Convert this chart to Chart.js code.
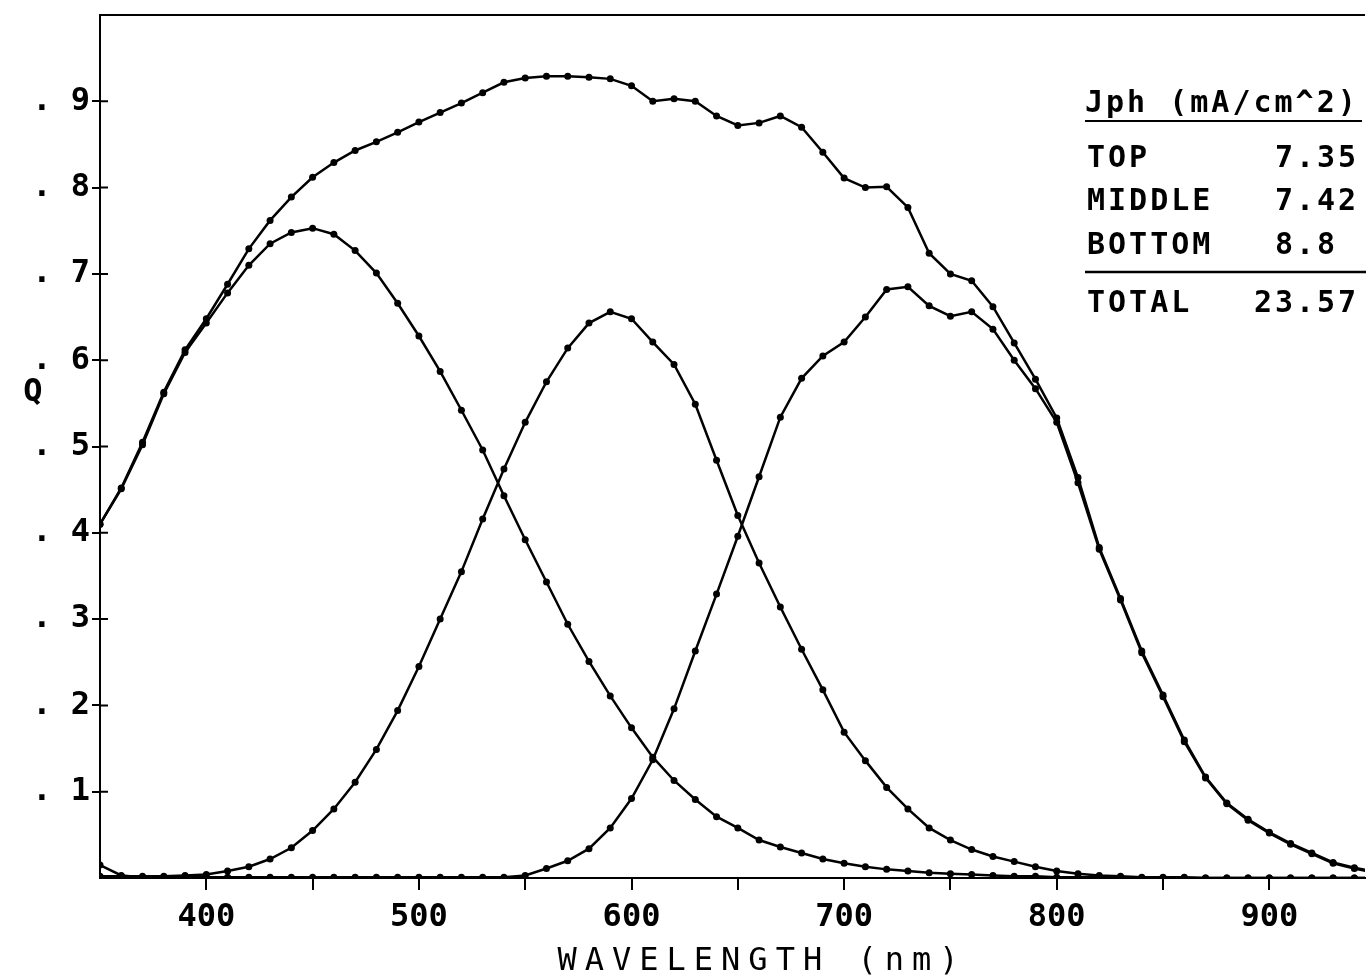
<!DOCTYPE html>
<html>
<head>
<meta charset="utf-8">
<title>Quantum efficiency</title>
<script src="https://cdn.jsdelivr.net/npm/chart.js@4.4.1/dist/chart.umd.min.js"></script>
<style>
  html, body { margin: 0; padding: 0; background: #fff; }
  #qeChart { display: block; }
</style>
</head>
<body>
<canvas id="qeChart" width="1369" height="977"></canvas>
<script>
// wavelength grid (nm), one point every 10 nm
const wavelength = [
  350, 360, 370, 380, 390, 400, 410, 420, 430, 440,
  450, 460, 470, 480, 490, 500, 510, 520, 530, 540,
  550, 560, 570, 580, 590, 600, 610, 620, 630, 640,
  650, 660, 670, 680, 690, 700, 710, 720, 730, 740,
  750, 760, 770, 780, 790, 800, 810, 820, 830, 840,
  850, 860, 870, 880, 890, 900, 910, 920, 930, 940, 950
];

// quantum efficiency of each cell
const qTop = [
  0.410, 0.451, 0.502, 0.561, 0.609, 0.643, 0.678, 0.710, 0.735, 0.748,
  0.753, 0.746, 0.727, 0.701, 0.666, 0.628, 0.587, 0.542, 0.496, 0.443,
  0.392, 0.343, 0.294, 0.251, 0.211, 0.174, 0.140, 0.113, 0.091, 0.071,
  0.058, 0.044, 0.036, 0.029, 0.022, 0.017, 0.013, 0.010, 0.008, 0.006,
  0.005, 0.004, 0.003, 0.002, 0.002, 0.001, 0.001, 0.001, 0.001, 0.000,
  0.000, 0.000, 0.000, 0.000, 0.000, 0.000, 0.000, 0.000, 0.000, 0.000, 0.000
];
const qMiddle = [
  0.002, 0.002, 0.002, 0.002, 0.003, 0.004, 0.008, 0.013, 0.022, 0.035,
  0.055, 0.080, 0.111, 0.149, 0.194, 0.245, 0.300, 0.355, 0.416, 0.474,
  0.528, 0.575, 0.614, 0.643, 0.656, 0.648, 0.621, 0.595, 0.549, 0.484,
  0.420, 0.365, 0.314, 0.265, 0.218, 0.169, 0.136, 0.105, 0.080, 0.058,
  0.044, 0.033, 0.025, 0.019, 0.013, 0.008, 0.005, 0.003, 0.002, 0.001,
  0.001, 0.001, 0.000, 0.000, 0.000, 0.000, 0.000, 0.000, 0.000, 0.000, 0.000
];
const qBottom = [
  0.015, 0.003, 0.001, 0.001, 0.001, 0.001, 0.001, 0.001, 0.001, 0.001,
  0.001, 0.001, 0.001, 0.001, 0.001, 0.001, 0.001, 0.001, 0.001, 0.001,
  0.003, 0.011, 0.020, 0.034, 0.058, 0.092, 0.137, 0.196, 0.263, 0.329,
  0.396, 0.465, 0.534, 0.579, 0.605, 0.621, 0.650, 0.682, 0.685, 0.663,
  0.651, 0.656, 0.636, 0.600, 0.567, 0.528, 0.458, 0.381, 0.322, 0.261,
  0.210, 0.158, 0.116, 0.086, 0.067, 0.052, 0.039, 0.028, 0.017, 0.011, 0.006
];
const qTotal = [
  0.410, 0.452, 0.505, 0.563, 0.612, 0.648, 0.688, 0.729, 0.762, 0.789,
  0.812, 0.829, 0.843, 0.853, 0.864, 0.876, 0.887, 0.898, 0.910, 0.922,
  0.927, 0.929, 0.929, 0.928, 0.926, 0.918, 0.900, 0.903, 0.900, 0.883,
  0.872, 0.875, 0.883, 0.870, 0.841, 0.811, 0.800, 0.801, 0.777, 0.724,
  0.700, 0.692, 0.662, 0.620, 0.578, 0.533, 0.464, 0.383, 0.324, 0.263,
  0.212, 0.160, 0.117, 0.087, 0.068, 0.053, 0.040, 0.029, 0.018, 0.012, 0.007
];

// photocurrent table
const cellNames = ['TOP', 'MIDDLE', 'BOTTOM'];
const jph = [7.35, 7.42, 8.8];
const jphTotal = 23.57;

const FONT = "'DejaVu Sans Mono', 'Liberation Mono', monospace";

function series(label, values) {
  return {
    label: label,
    data: wavelength.map((w, i) => ({ x: w, y: values[i] })),
    borderColor: '#000',
    borderWidth: 2.5,
    backgroundColor: '#000',
    pointRadius: 3.5,
    pointBorderWidth: 0,
    pointBackgroundColor: '#000',
    tension: 0,
    fill: false
  };
}

// frame, inner tick halves, axis titles and the Jph table
const plotterFrame = {
  id: 'plotterFrame',
  afterDraw(chart) {
    const ctx = chart.ctx;
    const a = chart.chartArea;
    const y = chart.scales.y;

    ctx.save();
    ctx.strokeStyle = '#000';
    ctx.fillStyle = '#000';
    ctx.lineWidth = 2;
    ctx.lineCap = 'butt';

    ctx.beginPath();
    ctx.moveTo(a.left - 1, a.top);
    ctx.lineTo(a.right, a.top);
    y.ticks.forEach(t => {
      const py = y.getPixelForValue(t.value);
      ctx.moveTo(a.left, py);
      ctx.lineTo(a.left + 8, py);
    });
    ctx.stroke();

    ctx.font = 'bold 32px ' + FONT;
    ctx.textAlign = 'center';
    ctx.textBaseline = 'middle';
    ctx.fillText('Q', 33, y.getPixelForValue(0.562));

    ctx.font = '32px ' + FONT;
    ctx.letterSpacing = '8px';
    ctx.textBaseline = 'alphabetic';
    ctx.fillText('WAVELENGTH (nm)', 762, 970);

    // table
    ctx.font = 'bold 30px ' + FONT;
    ctx.letterSpacing = '3px';
    ctx.textAlign = 'left';
    const x0 = 1087;
    const dotX = 1296;
    ctx.fillText('Jph (mA/cm^2)', x0 - 2, 112);
    ctx.beginPath();
    ctx.moveTo(x0 - 2, 121);
    ctx.lineTo(1362, 121);
    ctx.stroke();

    const rowY = [167, 210, 254];
    const drawValue = (v, py) => {
      const s = String(v);
      const intPart = s.split('.')[0];
      ctx.fillText(s, dotX - ctx.measureText(intPart).width, py);
    };
    cellNames.forEach((name, i) => {
      ctx.fillText(name, x0, rowY[i]);
      drawValue(jph[i], rowY[i]);
    });

    ctx.lineWidth = 2.5;
    ctx.beginPath();
    ctx.moveTo(x0 - 2, 272);
    ctx.lineTo(1366, 272);
    ctx.stroke();

    ctx.fillText('TOTAL', x0, 312);
    drawValue(jphTotal, 312);

    ctx.restore();
  }
};

new Chart(document.getElementById('qeChart'), {
  type: 'line',
  data: {
    datasets: [
      series('TOTAL', qTotal),
      series('TOP', qTop),
      series('MIDDLE', qMiddle),
      series('BOTTOM', qBottom)
    ]
  },
  options: {
    responsive: false,
    animation: false,
    layout: { padding: { top: 15, right: 0, bottom: 0, left: 0 } },
    plugins: {
      legend: { display: false },
      tooltip: { enabled: false }
    },
    scales: {
      x: {
        type: 'linear',
        min: 350,
        max: 945,
        border: { color: '#000', width: 2 },
        grid: { drawOnChartArea: false, tickLength: 12, color: '#000', lineWidth: 2 },
        ticks: {
          stepSize: 50,
          autoSkip: false,
          maxRotation: 0,
          padding: 8,
          color: '#000',
          font: { family: FONT, size: 32, weight: 'bold' },
          callback: v => (v % 100 === 0 ? String(v) : '')
        },
        afterBuildTicks: s => {
          s.ticks = s.ticks.filter(t => t.value > 350 && t.value % 50 === 0);
        },
        afterFit: s => {
          s.height = 99;
          s.paddingLeft = 0;
          s.paddingRight = 0;
        }
      },
      y: {
        min: 0,
        max: 1.0,
        border: { color: '#000', width: 2 },
        grid: { drawOnChartArea: false, tickLength: 8, color: '#000', lineWidth: 2 },
        ticks: {
          stepSize: 0.1,
          autoSkip: false,
          padding: 2,
          color: '#000',
          font: { family: FONT, size: 32, weight: 'bold' },
          callback: v => '. ' + Math.round(v * 10)
        },
        afterBuildTicks: s => {
          s.ticks = s.ticks.filter(t => t.value > 0.05 && t.value < 0.95);
        },
        afterFit: s => {
          s.width = 100;
          s.paddingTop = 0;
          s.paddingBottom = 0;
        }
      }
    }
  },
  plugins: [plotterFrame]
});
</script>
</body>
</html>
